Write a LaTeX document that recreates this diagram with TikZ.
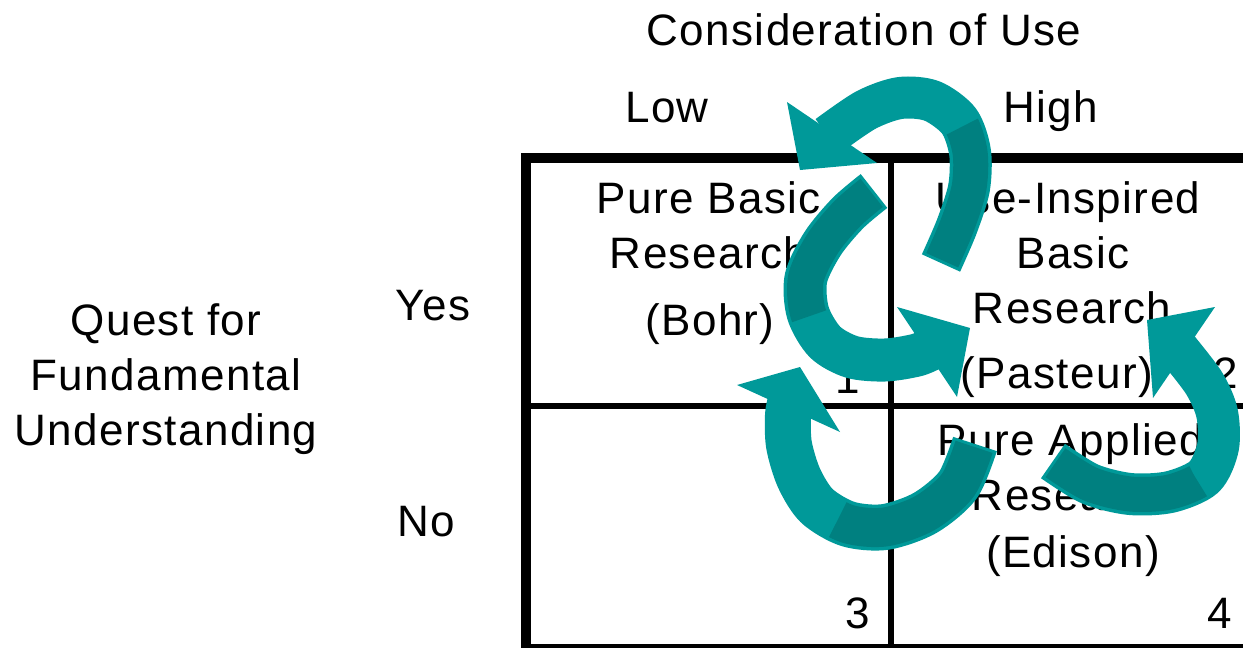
\documentclass[tikz,border=0pt]{standalone}
\usepackage{fontspec}
\setmainfont[LetterSpace=3.2]{Liberation Sans}
\definecolor{tealLight}{RGB}{0,153,153}
\definecolor{tealDark}{RGB}{0,128,128}
\tikzset{
  lbl/.style={font=\fontsize{44}{55}\selectfont,inner sep=0pt,anchor=base},
  band/.style={draw=tealLight,line width=#1,line cap=butt,line join=round},
  twist/.style={draw=tealDark,line width=#1,line cap=butt,line join=round},
}
% #1 band width, #2 inner width, #3 length of the dark part, #4 centre line, #5 head
\newcommand{\ribbon}[5]{%
  \fill[tealLight] #5--cycle;
  \draw[band=#1] plot[smooth] coordinates {#4};
  \draw[twist=#2,dash pattern=on 0pt off 3pt on #3 off 2000pt] plot[smooth] coordinates {#4};
}
\begin{document}
\begin{tikzpicture}[x=1pt,y=-1pt]
\useasboundingbox (0,0) rectangle (1243,648);
\clip (0,0) rectangle (1243,648);
% table
\draw[line width=9.5pt] (1260,158)--(526,158)--(526,660);
\draw[line width=9pt] (522,648)--(1260,648);
\draw[line width=5.5pt] (891,158)--(891,648);
\draw[line width=5.5pt] (526,406)--(1260,406);
% headings
\node[lbl] (use) at (864,45) {Consideration of Use};
\node[lbl] (low) at (667,122) {Low};
\node[lbl] (high) at (1051,122) {High};
\node[lbl] (quest) at (166,335) {Quest for};
\node[lbl] (fund) at (166,390) {Fundamental};
\node[lbl] (under) at (166,445) {Understanding};
\node[lbl] (yes) at (433,320) {Yes};
\node[lbl] (no) at (426,536) {No};
% cell 1
\node[lbl] (bohrA) at (709,213) {Pure Basic};
\node[lbl] (bohrB) at (709,268) {Research};
\node[lbl] (bohrC) at (710,335) {(Bohr)};
\node[lbl] (one) at (848,393) {1};
% cell 2
\node[lbl] (pastA) at (1068,213) {Use-Inspired};
\node[lbl] (pastB) at (1073,268) {Basic};
\node[lbl] (pastC) at (1072,323) {Research};
\node[lbl] (pastD) at (1057,388) {(Pasteur)};
\node[lbl] (two) at (1226,388) {2};
% cell 3 and 4
\node[lbl] (three) at (858,628) {3};
\node[lbl] (ediA) at (1071,455) {Pure Applied};
\node[lbl] (ediB) at (1071,510) {Research};
\node[lbl] (ediC) at (1073,567) {(Edison)};
\node[lbl] (four) at (1220,628) {4};
% arrows
\ribbon{42pt}{35pt}{140pt}{(941,263) (957,226) (969,188) (970,152) (959,121) (932,101) (900,98) (866,110) (828,136)}{(787,102)--(800,170)--(877,163)}
\ribbon{43pt}{36pt}{148pt}{(874,191) (848,213) (823,243) (806,278) (808,313) (825,342) (852,357) (885,360) (917,355) (935,347)}{(897,307)--(970,328)--(957,397)}
\ribbon{46pt}{39pt}{176pt}{(975,444) (958,485) (925,513) (885,527) (848,524) (817,506) (799,478) (789,445) (788,415) (791,400)}{(737,385)--(800,367)--(840,432)}
\ribbon{42pt}{35pt}{152pt}{(1053,461) (1090,484) (1130,494) (1170,492) (1204,477) (1218,447) (1217,413) (1204,383) (1177,348)}{(1215,307)--(1147,320)--(1153,398)}
\end{tikzpicture}
\end{document}
